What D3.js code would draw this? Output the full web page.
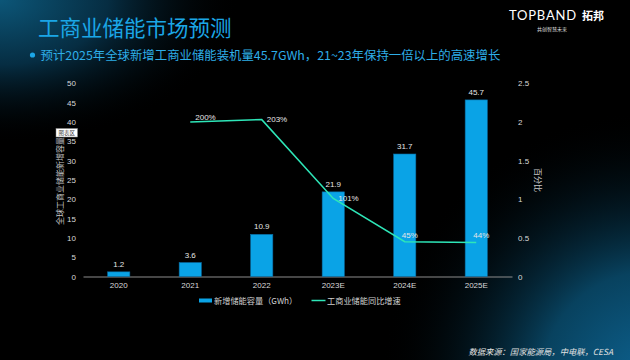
<!DOCTYPE html>
<html><head><meta charset="utf-8">
<script src="https://cdn.jsdelivr.net/npm/d3@7"></script>
<style>
html,body{margin:0;padding:0;background:#000;}
svg{display:block;}
</style></head>
<body><svg id="c" width="630" height="360"></svg>
<script>
const categories = ["2020","2021","2022","2023E","2024E","2025E"];
const capacity = [1.2, 3.6, 10.9, 21.9, 31.7, 45.7];
const growth = [null, 2.00, 2.03, 1.01, 0.45, 0.44];
const leftTicks = [0,5,10,15,20,25,30,35,40,45,50];
const rightTicks = [0,0.5,1,1.5,2,2.5];
const title = "工商业储能市场预测";
const subtitle = "预计2025年全球新增工商业储能装机量45.7GWh，21~23年保持一倍以上的高速增长";
const seriesNames = ["新增储能容量（GWh）","工商业储能同比增速"];
const leftAxisTitle = "全球工商业储能新增容量";
const rightAxisTitle = "百分比";
const source = "数据来源：国家能源局，中电联，CESA";

const svg = d3.select("#c");
const defs = svg.append("defs");
const g1 = defs.append("radialGradient").attr("id","gTL").attr("gradientUnits","userSpaceOnUse")
  .attr("cx",0).attr("cy",0).attr("r",240).attr("gradientTransform","scale(1,0.6)");
g1.append("stop").attr("offset","0").attr("stop-color","#0c5678");
g1.append("stop").attr("offset","0.45").attr("stop-color","#062d42");
g1.append("stop").attr("offset","1").attr("stop-color","#000").attr("stop-opacity",0);
const g2 = defs.append("radialGradient").attr("id","gBR").attr("gradientUnits","userSpaceOnUse")
  .attr("cx",650).attr("cy",380).attr("r",270);
g2.append("stop").attr("offset","0").attr("stop-color","#0d6290");
g2.append("stop").attr("offset","0.4").attr("stop-color","#08425f");
g2.append("stop").attr("offset","1").attr("stop-color","#000").attr("stop-opacity",0);
svg.append("rect").attr("width",630).attr("height",360).attr("fill","#000");
svg.append("rect").attr("width",630).attr("height",360).attr("fill","url(#gTL)");
svg.append("rect").attr("width",630).attr("height",360).attr("fill","url(#gBR)");

const cjk = "'Noto Sans CJK SC','Noto Sans',sans-serif";
const lat = "'Liberation Sans',Arial,'Noto Sans CJK SC',sans-serif";

// title
svg.append("text").attr("x",38).attr("y",36).text(title)
  .attr("font-family",cjk).attr("font-size",21.5).attr("fill","#1ba6e6");
svg.append("circle").attr("cx",32.5).attr("cy",55).attr("r",2.6).attr("fill","#1ba6e6");
svg.append("text").attr("x",40.5).attr("y",59.5).text(subtitle)
  .attr("font-family",cjk).attr("font-size",12.4).attr("fill","#2eaee8");

// logo
svg.append("text").attr("x",509).attr("y",20).text("TOPBAND")
  .attr("font-family","Lato,'Liberation Sans',sans-serif").attr("font-size",13).attr("letter-spacing",0.8).attr("fill","#fff");
svg.append("text").attr("x",582).attr("y",20).text("拓邦")
  .attr("font-family",cjk).attr("font-weight","bold").attr("font-size",11).attr("fill","#fff");
svg.append("text").attr("x",552).attr("y",31).text("共创智慧未来").attr("text-anchor","middle")
  .attr("font-family",cjk).attr("font-size",5).attr("fill","#ddd");

// scales
const x = d3.scaleBand().domain(categories).range([83,512]).paddingInner(0.69).paddingOuter(0.345);
const yL = d3.scaleLinear().domain([0,50]).range([276.5,83.3]);
const yR = d3.scaleLinear().domain([0,2.5]).range([276.5,83.3]);

const tickFont = g => g.selectAll("text").attr("font-family",lat).attr("font-size",8).attr("fill","#d9d9d9");
const axL = svg.append("g").attr("transform","translate(83,0)")
  .call(d3.axisLeft(yL).tickValues(leftTicks).tickSize(0).tickPadding(7));
axL.select(".domain").remove(); tickFont(axL);
const axR = svg.append("g").attr("transform","translate(512,0)")
  .call(d3.axisRight(yR).tickValues(rightTicks).tickSize(0).tickPadding(6).tickFormat(d3.format("")));
axR.select(".domain").remove(); tickFont(axR);
const axB = svg.append("g").attr("transform","translate(0,276.5)")
  .call(d3.axisBottom(x).tickSize(0).tickPadding(6));
axB.select(".domain").attr("stroke","#8c8c8c").attr("stroke-width",1);
tickFont(axB);

// bars
svg.append("g").selectAll("rect").data(capacity).join("rect")
  .attr("x",(d,i)=>x(categories[i])).attr("width",x.bandwidth())
  .attr("y",d=>yL(d)).attr("height",d=>yL(0)-yL(d))
  .attr("fill","#0aa3e6").attr("stroke","#0a6ea6").attr("stroke-width",0.6);
svg.append("g").selectAll("text").data(capacity).join("text")
  .attr("x",(d,i)=>x(categories[i])+x.bandwidth()/2).attr("y",d=>yL(d)-5)
  .attr("text-anchor","middle").text(d=>d.toFixed(1))
  .attr("font-family",lat).attr("font-size",8).attr("fill","#e6e6e6");

// line
const pts = growth.map((v,i)=>({v,c:categories[i]})).filter(d=>d.v!=null);
const cx = d=>x(d.c)+x.bandwidth()/2;
svg.append("path").datum(pts)
  .attr("d",d3.line().x(cx).y(d=>yR(d.v)))
  .attr("fill","none").attr("stroke","#2ee6b8").attr("stroke-width",1.5);
svg.append("g").selectAll("text").data(pts).join("text")
  .attr("x",(d,i)=> cx(d)+5)
  .attr("y",(d,i)=> i<3 ? yR(d.v)+2.5 - (i===0?4:0) : yR(d.v)-4)
  .attr("text-anchor",(d,i)=> i<3 ? "start" : "middle")
  .text(d=>Math.round(d.v*100)+"%")
  .attr("font-family",lat).attr("font-size",8).attr("fill","#e6e6e6");

// axis titles
svg.append("text").attr("transform","translate(63,181) rotate(-90)").attr("text-anchor","middle")
  .text(leftAxisTitle).attr("font-family",cjk).attr("font-size",8).attr("fill","#c8c8c8");
svg.append("text").attr("transform","translate(535,180) rotate(90)").attr("text-anchor","middle")
  .text(rightAxisTitle).attr("font-family",cjk).attr("font-size",8).attr("fill","#c8c8c8");

// tooltip artifact
svg.append("rect").attr("x",56).attr("y",128.5).attr("width",21.5).attr("height",8.5)
  .attr("fill","#fff").attr("stroke","#888").attr("stroke-width",0.5);
svg.append("text").attr("x",66.7).attr("y",135).attr("text-anchor","middle").text("图表区")
  .attr("font-family",cjk).attr("font-size",5.5).attr("fill","#444");

// legend
const lg = svg.append("g");
lg.append("rect").attr("x",199).attr("y",298.5).attr("width",13).attr("height",4).attr("fill","#0aa3e6");
lg.append("text").attr("x",214).attr("y",303.5).text(seriesNames[0])
  .attr("font-family",cjk).attr("font-size",8.2).attr("fill","#d0d0d0");
lg.append("line").attr("x1",311.5).attr("x2",325.5).attr("y1",300.5).attr("y2",300.5)
  .attr("stroke","#2ee6b8").attr("stroke-width",1.5);
lg.append("text").attr("x",327).attr("y",303.5).text(seriesNames[1])
  .attr("font-family",cjk).attr("font-size",8.2).attr("fill","#d0d0d0");

// source
svg.append("text").attr("x",613).attr("y",355).attr("text-anchor","end").text(source)
  .attr("font-family",cjk).attr("font-style","italic").attr("font-size",8.3).attr("fill","#e0e0e0");
</script></body></html>
